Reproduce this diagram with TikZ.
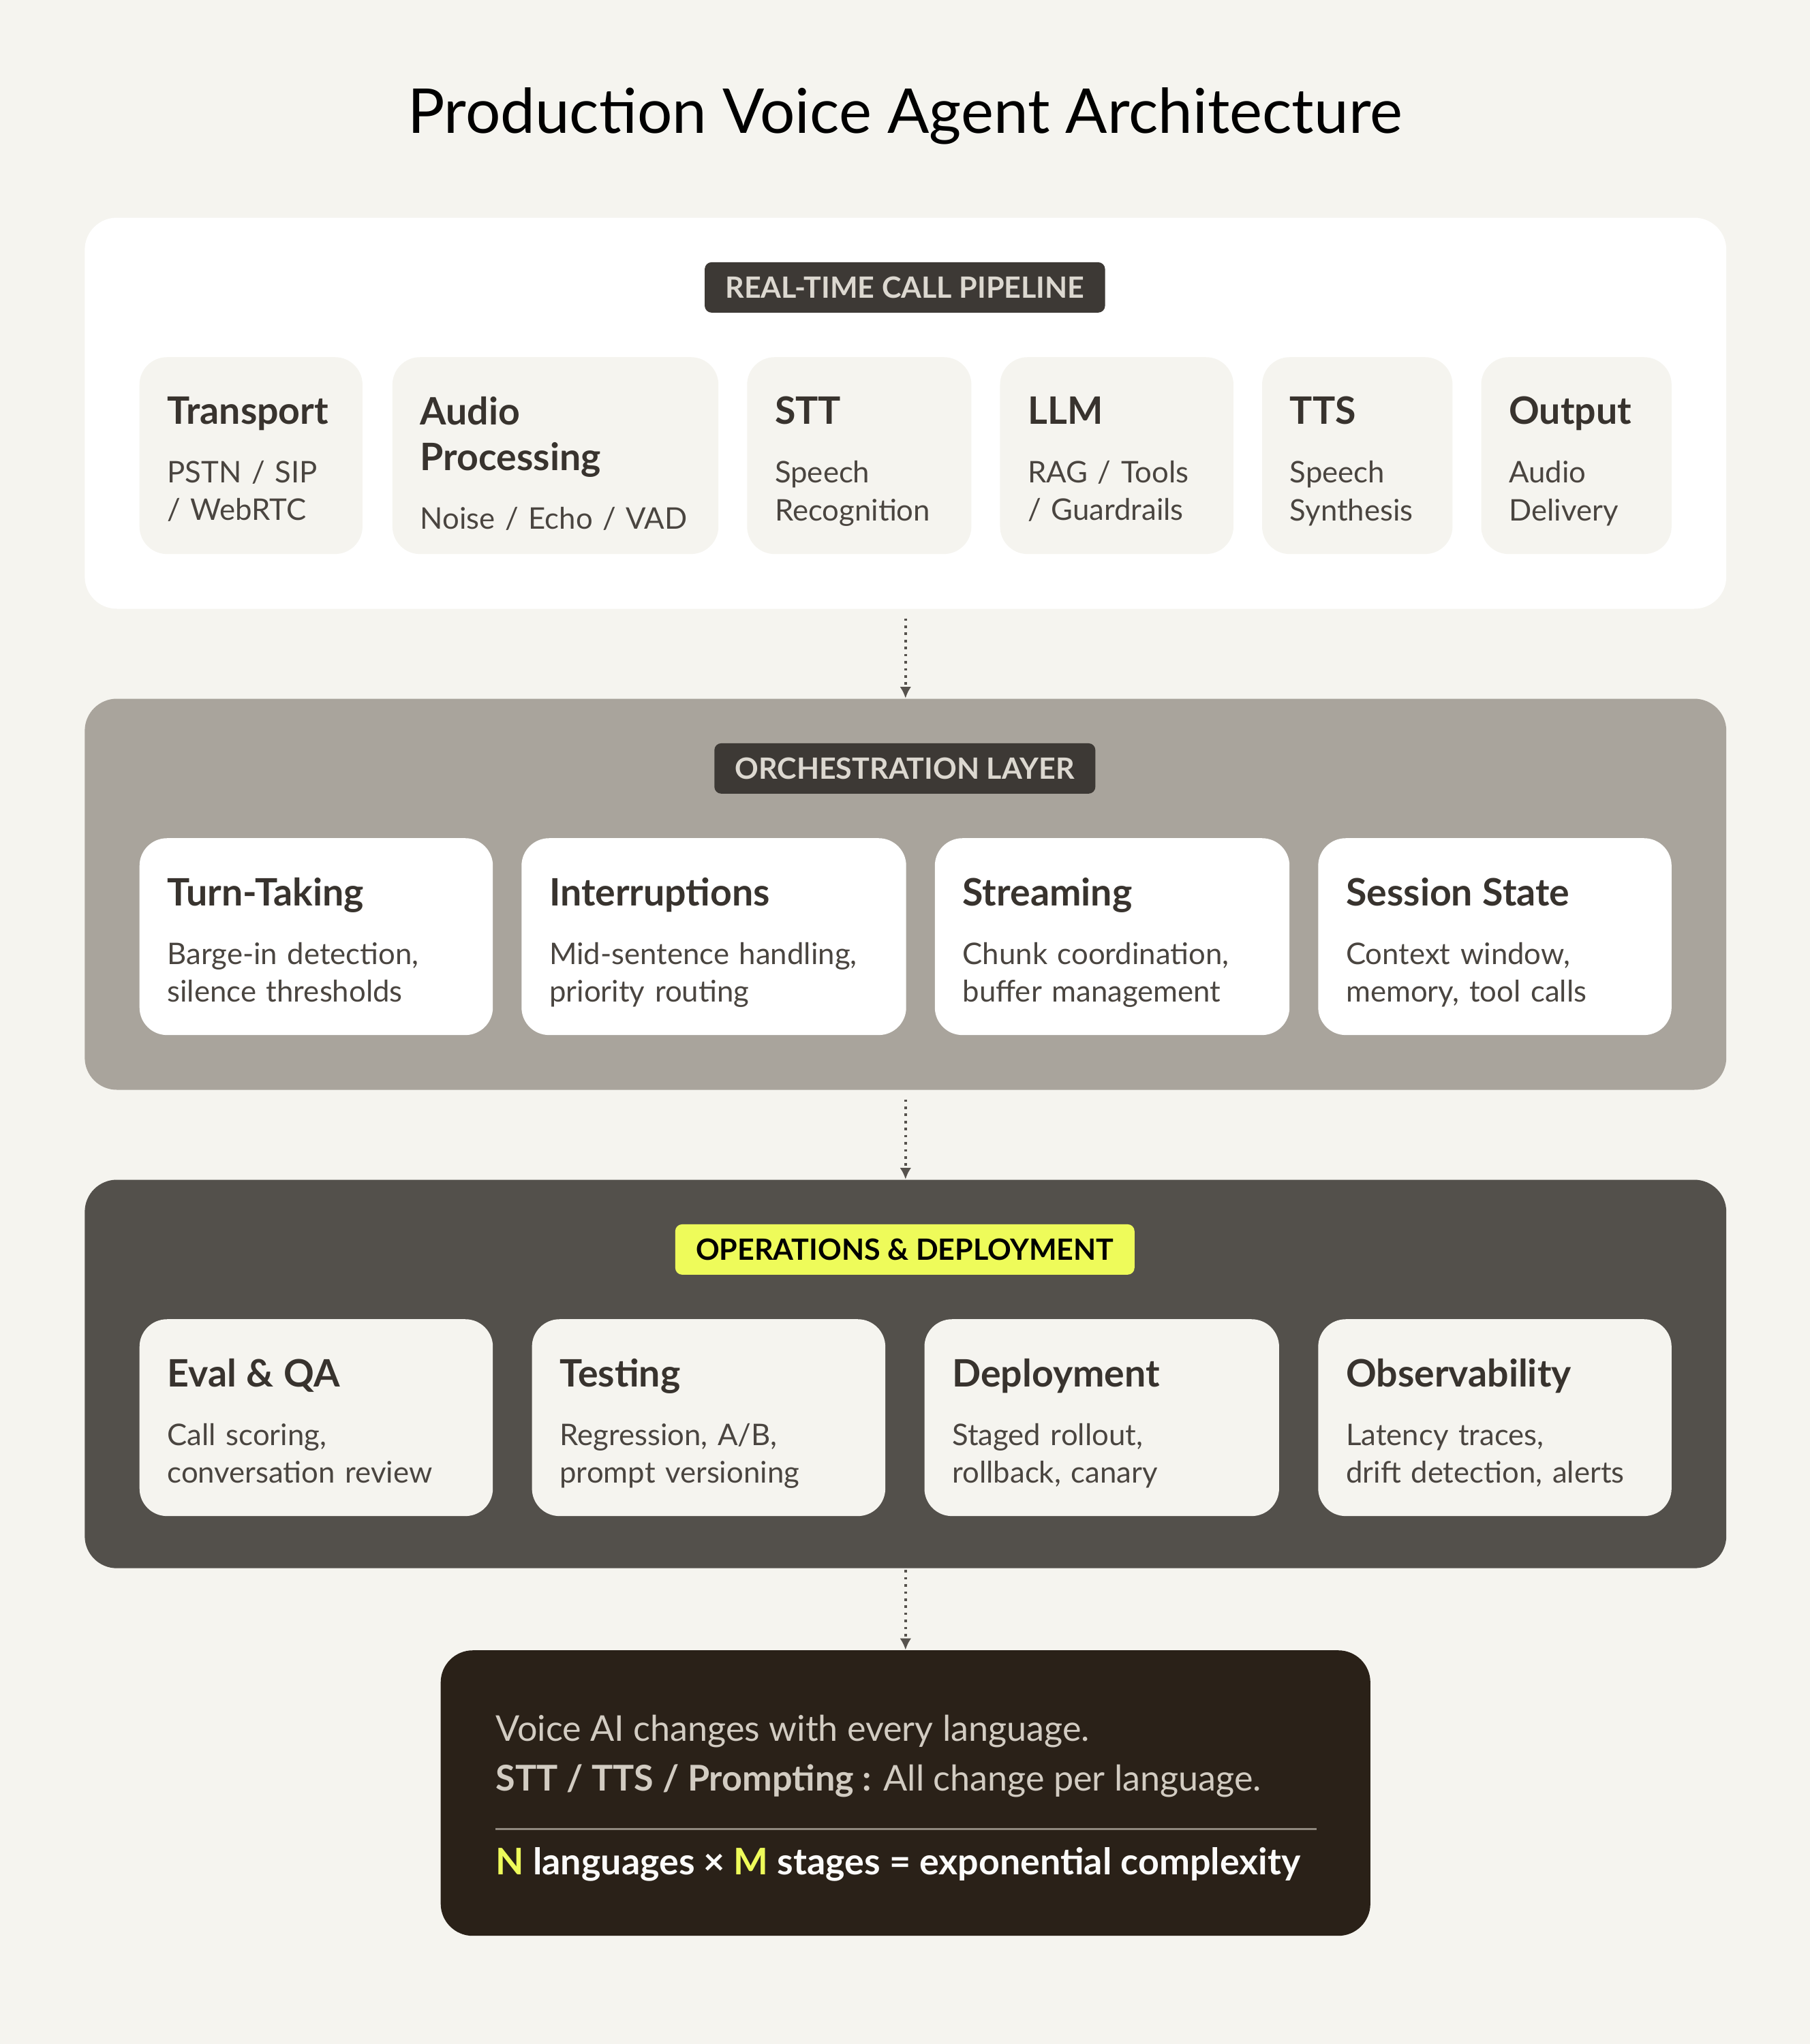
\documentclass[tikz,border=0pt]{standalone}
\usepackage{fontspec}
\setmainfont{Lato}
\usetikzlibrary{fit,arrows.meta,calc}
\definecolor{bg}{HTML}{F5F4EF}
\definecolor{graypanel}{HTML}{A9A49C}
\definecolor{darkpanel}{HTML}{53504B}
\definecolor{bottombox}{HTML}{2A2118}
\definecolor{pill}{HTML}{3D3935}
\definecolor{pilltext}{HTML}{DCD8D0}
\definecolor{yel}{HTML}{EEFB5A}
\definecolor{ttl}{HTML}{38332E}
\definecolor{sub}{HTML}{4A4540}
\definecolor{light}{HTML}{D2CCC2}
\tikzset{
  x=0.02cm,y=-0.02cm,
  panel/.style={inner sep=0,rounded corners=14pt,draw=none},
  card/.style={inner sep=0,rounded corners=12pt,draw=none},
  pillst/.style={fill=pill,text=pilltext,rounded corners=3pt,font=\fontsize{12.8}{14}\selectfont\bfseries,minimum height=22pt,inner xsep=9pt},
  ctext/.style={anchor=north west,align=left,inner sep=0,text width=160pt,font=\fontsize{13}{16.5}\selectfont,text=sub},
  conn/.style={dotted,line width=1.1pt,draw=ttl!85,-{Latex[length=5pt,width=5pt]}},
}
\newcommand\TT[1]{{\fontsize{16.5}{19}\selectfont\bfseries\color{ttl}#1}}
\newcommand\mkcard[7]{%
  \coordinate (#1a) at (#2,#3); \coordinate (#1b) at (#4,#5);
  \node[card,fill=#7,fit=(#1a)(#1b)] (#1) {};
  \node[ctext] (#1t) at ($(#2,#3)+(21,30)$) {#6};}
\begin{document}
\begin{tikzpicture}
\useasboundingbox[fill=bg] (0,0) rectangle (1388,1568);
\node (title) at (694,89) {\fontsize{27}{30}\selectfont\color{black}Production Voice Agent Architecture};

% panel 1
\coordinate (p1a) at (65,167); \coordinate (p1b) at (1324,467);
\node[panel,fill=white,fit=(p1a)(p1b)] (p1) {};
\node[pillst] (l1) at (694,220.5) {REAL-TIME CALL PIPELINE};
\mkcard{c1}{107}{274}{278}{425}{\TT{Transport}\\[9pt]PSTN / SIP\\/ WebRTC}{bg}
\mkcard{c2}{301}{274}{551}{425}{\TT{Audio}\\[3.5pt]\TT{Processing}\\[9pt]Noise / Echo / VAD}{bg}
\mkcard{c3}{573}{274}{745}{425}{\TT{STT}\\[9pt]Speech\\Recognition}{bg}
\mkcard{c4}{767}{274}{946}{425}{\TT{LLM}\\[9pt]RAG / Tools\\/ Guardrails}{bg}
\mkcard{c5}{968}{274}{1114}{425}{\TT{TTS}\\[9pt]Speech\\Synthesis}{bg}
\mkcard{c6}{1136}{274}{1282}{425}{\TT{Output}\\[9pt]Audio\\Delivery}{bg}

% panel 2
\coordinate (p2a) at (65,536); \coordinate (p2b) at (1324,836);
\node[panel,fill=graypanel,fit=(p2a)(p2b)] (p2) {};
\node[pillst] (l2) at (694,589.5) {ORCHESTRATION LAYER};
\mkcard{d1}{107}{643}{378}{794}{\TT{Turn-Taking}\\[9pt]Barge-in detection,\\silence thresholds}{white}
\mkcard{d2}{400}{643}{695}{794}{\TT{Interruptions}\\[9pt]Mid-sentence handling,\\priority routing}{white}
\mkcard{d3}{717}{643}{989}{794}{\TT{Streaming}\\[9pt]Chunk coordination,\\buffer management}{white}
\mkcard{d4}{1011}{643}{1282}{794}{\TT{Session State}\\[9pt]Context window,\\memory, tool calls}{white}

% panel 3
\coordinate (p3a) at (65,905); \coordinate (p3b) at (1324,1203);
\node[panel,fill=darkpanel,fit=(p3a)(p3b)] (p3) {};
\node[pillst,fill=yel,text=black] (l3) at (694,958.5) {OPERATIONS \& DEPLOYMENT};
\mkcard{e1}{107}{1012}{378}{1163}{\TT{Eval \& QA}\\[9pt]Call scoring,\\conversation review}{bg}
\mkcard{e2}{408}{1012}{679}{1163}{\TT{Testing}\\[9pt]Regression, A/B,\\prompt versioning}{bg}
\mkcard{e3}{709}{1012}{981}{1163}{\TT{Deployment}\\[9pt]Staged rollout,\\rollback, canary}{bg}
\mkcard{e4}{1011}{1012}{1282}{1163}{\TT{Observability}\\[9pt]Latency traces,\\drift detection, alerts}{bg}

% bottom box
\coordinate (ba) at (338,1266); \coordinate (bb) at (1051,1485);
\node[panel,fill=bottombox,fit=(ba)(bb)] (bx) {};
\node[anchor=west,inner sep=0,text=light] (b1) at (380,1328) {\fontsize{15.5}{18}\selectfont Voice AI changes with every language.};
\node[anchor=west,inner sep=0,text=light] (b2) at (380,1366) {\fontsize{15.5}{18}\selectfont\textbf{STT / TTS / Prompting :} All change per language.};
\coordinate (r1) at (380,1403); \coordinate (r2) at (1010,1403);
\draw[light!60!bottombox,line width=0.7pt] (r1) -- (r2);
\node[anchor=west,inner sep=0,text=white!92!light] (b3) at (380,1430) {\fontsize{16}{18}\selectfont\bfseries{\color{yel}N} languages × {\color{yel}M} stages = exponential complexity};

% connectors
\draw[conn] (p1.south) ++(0,7) -- (p2.north);
\draw[conn] (p2.south) ++(0,7) -- (p3.north);
\draw[conn] (p3.south) ++(0,1) -- (bx.north);
\end{tikzpicture}
\end{document}
